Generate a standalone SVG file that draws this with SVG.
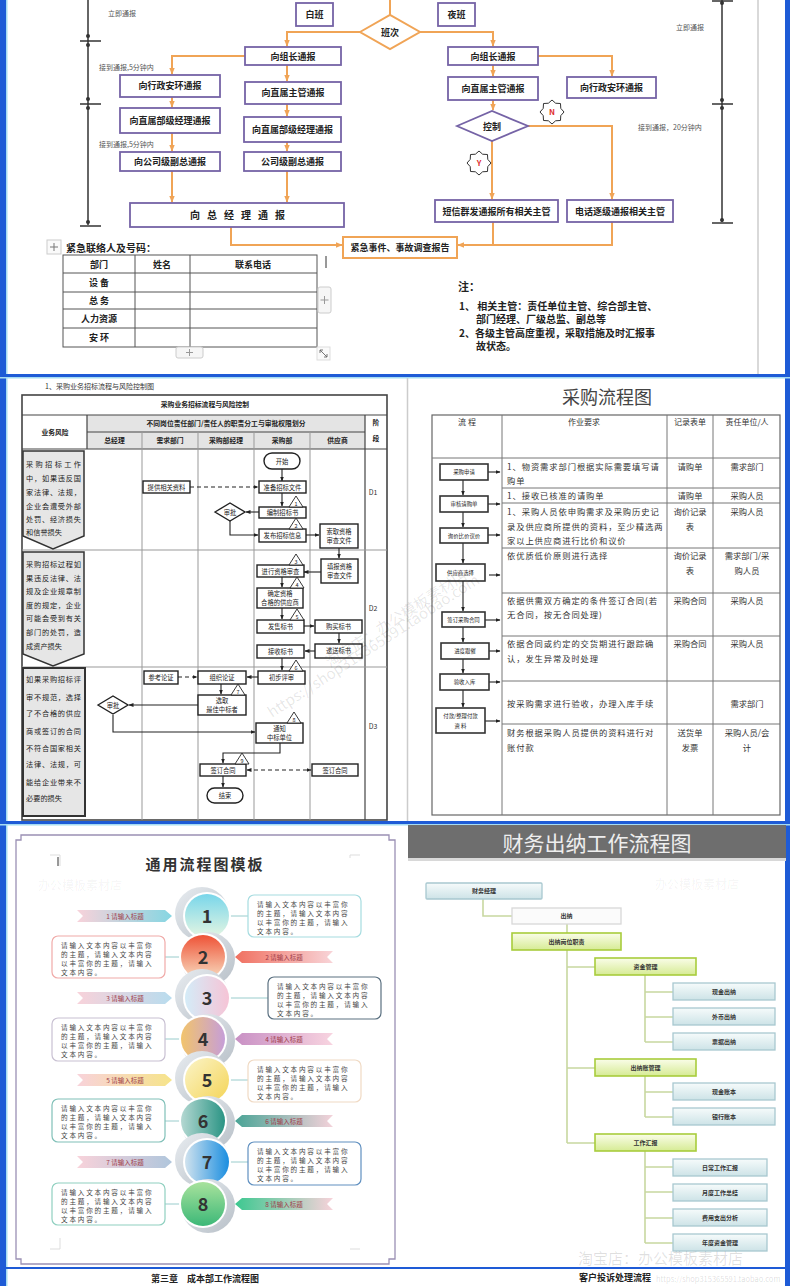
<svg xmlns="http://www.w3.org/2000/svg" width="790" height="1286" viewBox="0 0 790 1286">
<style>
text{font-family:"Noto Sans CJK SC","Noto Sans",sans-serif}
.pb{fill:#fff;stroke:#7563a6;stroke-width:1.8}
.oc{fill:none;stroke:#f0a456;stroke-width:2}
.tb{font-size:9px;font-weight:bold;fill:#222;text-anchor:middle}
.ts{font-size:7px;fill:#555}
.nt{font-size:10px;font-weight:bold;fill:#222}
.tl{stroke:#555;stroke-width:1;fill:none}
.tt{font-size:9px;font-weight:bold;fill:#222;text-anchor:middle}
.fb{fill:#fff;stroke:#222;stroke-width:1.4}
.ft{font-size:6.3px;fill:#222;text-anchor:middle}
.bc{fill:none;stroke:#222;stroke-width:1.1}
.dc{fill:none;stroke:#222;stroke-width:1.1;stroke-dasharray:4 3}
.gl{stroke:#999;stroke-width:1}
.rk{fill:#e6e6e6;stroke:#333;stroke-width:1.5}
.rt{font-size:7.2px;fill:#222}
.hd{font-size:6.8px;font-weight:bold;fill:#222;text-anchor:middle}
.tri{fill:#fff;stroke:#222;stroke-width:0.9}
.tn{font-size:5.5px;fill:#222;text-anchor:middle}
.mb{fill:#fff;stroke:#333;stroke-width:1.6}
.mbt{font-size:5.4px;fill:#222;text-anchor:middle}
.mt{font-size:8.3px;letter-spacing:0.9px;fill:#333}
.mc{font-size:8.3px;fill:#333;text-anchor:middle}
.mh{font-size:8px;fill:#333;text-anchor:middle}
.ml{stroke:#777;stroke-width:1}
.tx{font-size:6.6px;fill:#444;letter-spacing:1.8px}
.rb{font-size:6.5px;fill:#a03a48;text-anchor:middle}
.num{font-size:18px;font-weight:bold;fill:#333;text-anchor:middle}
.bn{fill:url(#gBlue);stroke:#a8c8d0;stroke-width:1.3}
.gn{fill:url(#gGreen);stroke:#a8cc3c;stroke-width:1.6}
.nn{font-size:6px;font-weight:bold;fill:#333;text-anchor:middle}
.tc{fill:none;stroke:#c8d8a0;stroke-width:1.6}
.wm{fill:#000;fill-opacity:0.1}
</style>
<defs>
<marker id="ao" viewBox="0 0 10 10" refX="9" refY="5" markerUnits="userSpaceOnUse" markerWidth="7" markerHeight="7" orient="auto"><path d="M0,1 L10,5 L0,9 Z" fill="#f0a456"/></marker>
<marker id="ab" viewBox="0 0 10 10" refX="9" refY="5" markerUnits="userSpaceOnUse" markerWidth="5" markerHeight="5" orient="auto"><path d="M0,1 L10,5 L0,9 Z" fill="#222"/></marker>
<marker id="abs" viewBox="0 0 10 10" refX="1" refY="5" markerUnits="userSpaceOnUse" markerWidth="5" markerHeight="5" orient="auto"><path d="M10,1 L0,5 L10,9 Z" fill="#222"/></marker>
<polygon id="star" points="12,0 8.78,3.64 8.49,8.49 3.64,8.78 0,12 -3.64,8.78 -8.49,8.49 -8.78,3.64 -12,0 -8.78,-3.64 -8.49,-8.49 -3.64,-8.78 0,-12 3.64,-8.78 8.49,-8.49 8.78,-3.64" fill="#fff" stroke="#333" stroke-width="1"/>
<linearGradient id="gBlue" x1="0" y1="0" x2="0" y2="1"><stop offset="0" stop-color="#f6fbfb"/><stop offset="1" stop-color="#cde3e7"/></linearGradient>
<linearGradient id="gGreen" x1="0" y1="0" x2="0" y2="1"><stop offset="0" stop-color="#fafde9"/><stop offset="1" stop-color="#d6eb94"/></linearGradient>
<linearGradient id="gGrey" x1="0" y1="0" x2="1" y2="1"><stop offset="0" stop-color="#e8ecf0"/><stop offset="1" stop-color="#b8c0c8"/></linearGradient>
<linearGradient id="c1" x1="0" y1="0" x2="0" y2="1"><stop offset="0" stop-color="#78d6ea"/><stop offset="1" stop-color="#e6f6e2"/></linearGradient>
<linearGradient id="c2" x1="0" y1="0" x2="0" y2="1"><stop offset="0" stop-color="#ee5236"/><stop offset="1" stop-color="#f8dcc0"/></linearGradient>
<linearGradient id="c3" x1="0" y1="0" x2="1" y2="0"><stop offset="0" stop-color="#d4ecf8"/><stop offset="1" stop-color="#f6c4d6"/></linearGradient>
<linearGradient id="c4" x1="0" y1="0" x2="1" y2="0"><stop offset="0" stop-color="#f2c46c"/><stop offset="1" stop-color="#c69ed8"/></linearGradient>
<linearGradient id="c5" x1="0" y1="0" x2="1" y2="1"><stop offset="0" stop-color="#fbf4c8"/><stop offset="1" stop-color="#f4d456"/></linearGradient>
<linearGradient id="c6" x1="0" y1="0" x2="1" y2="0"><stop offset="0" stop-color="#b4d8d2"/><stop offset="1" stop-color="#2a9484"/></linearGradient>
<linearGradient id="c7" x1="0" y1="0" x2="1" y2="0"><stop offset="0" stop-color="#d0e2ee"/><stop offset="1" stop-color="#1a8ee0"/></linearGradient>
<linearGradient id="c8" x1="0" y1="0" x2="0" y2="1"><stop offset="0" stop-color="#a8e29c"/><stop offset="1" stop-color="#3cb878"/></linearGradient>
<linearGradient id="r1" x1="0" y1="0" x2="1" y2="0"><stop offset="0" stop-color="#f8d2da"/><stop offset="1" stop-color="#86d6e2"/></linearGradient>
<linearGradient id="r3" x1="0" y1="0" x2="1" y2="0"><stop offset="0" stop-color="#f8d2da"/><stop offset="1" stop-color="#b8dcee"/></linearGradient>
<linearGradient id="r5" x1="0" y1="0" x2="1" y2="0"><stop offset="0" stop-color="#f8d2da"/><stop offset="1" stop-color="#f6e48a"/></linearGradient>
<linearGradient id="r7" x1="0" y1="0" x2="1" y2="0"><stop offset="0" stop-color="#f8d2da"/><stop offset="1" stop-color="#b0c6dc"/></linearGradient>
<linearGradient id="r2" x1="0" y1="0" x2="1" y2="0"><stop offset="0" stop-color="#f07060"/><stop offset="1" stop-color="#f8d4d8"/></linearGradient>
<linearGradient id="r4" x1="0" y1="0" x2="1" y2="0"><stop offset="0" stop-color="#c890c4"/><stop offset="1" stop-color="#f8d4e0"/></linearGradient>
<linearGradient id="r6" x1="0" y1="0" x2="1" y2="0"><stop offset="0" stop-color="#4aa496"/><stop offset="1" stop-color="#f4d2da"/></linearGradient>
<linearGradient id="r8" x1="0" y1="0" x2="1" y2="0"><stop offset="0" stop-color="#3cc890"/><stop offset="1" stop-color="#f8d2da"/></linearGradient>
</defs>

<!-- page background and frame -->
<rect x="0" y="0" width="790" height="1286" fill="#fff"/>
<g id="frame">
<rect x="0" y="0" width="6" height="1286" fill="#1e5bd6"/>
<rect x="6" y="0" width="1.5" height="1286" fill="#a6dcf2"/>
<rect x="785" y="0" width="5" height="1286" fill="#1e5bd6"/>
<rect x="0" y="374" width="790" height="3" fill="#1e5bd6"/>
<rect x="0" y="377" width="790" height="1.5" fill="#a6dcf2"/>
<rect x="0" y="821" width="790" height="3" fill="#1e5bd6"/>
<rect x="0" y="824" width="790" height="1.5" fill="#a6dcf2"/>
<line x1="758" y1="0" x2="758" y2="374" stroke="#ccc" stroke-width="1.5"/>
<line x1="407.5" y1="378" x2="407.5" y2="821" stroke="#ccc" stroke-width="1.5"/>
<rect x="6" y="1267" width="784" height="2" fill="#1e5bd6"/>
</g>

<!-- ============ TOP PANEL ============ -->
<g id="timelines">
<line x1="88" y1="0" x2="88" y2="225" stroke="#333" stroke-width="1.5"/>
<line x1="80" y1="41" x2="101" y2="41" stroke="#333" stroke-width="1.5"/>
<line x1="80" y1="104" x2="101" y2="104" stroke="#333" stroke-width="1.5"/>
<line x1="80" y1="226" x2="101" y2="226" stroke="#333" stroke-width="1.5"/>
<circle cx="88" cy="36" r="2" fill="#333"/><circle cx="88" cy="45" r="2" fill="#333"/>
<circle cx="88" cy="99" r="2" fill="#333"/><circle cx="88" cy="108" r="2" fill="#333"/>
<circle cx="88" cy="222" r="2" fill="#333"/>
<text class="ts" x="108" y="16">立即通报</text>
<text class="ts" x="99" y="70">接到通报,5分钟内</text>
<text class="ts" x="99" y="147">接到通报,5分钟内</text>
<line x1="722" y1="0" x2="722" y2="222" stroke="#333" stroke-width="1.5"/>
<line x1="712" y1="1" x2="733" y2="1" stroke="#333" stroke-width="1.5"/>
<line x1="712" y1="104" x2="733" y2="104" stroke="#333" stroke-width="1.5"/>
<line x1="712" y1="223" x2="733" y2="223" stroke="#333" stroke-width="1.5"/>
<circle cx="722" cy="3" r="2" fill="#333"/><circle cx="722" cy="100" r="2" fill="#333"/>
<circle cx="722" cy="108" r="2" fill="#333"/><circle cx="722" cy="220" r="2" fill="#333"/>
<text class="ts" x="676" y="30">立即通报</text>
<text class="ts" x="638" y="130">接到通报，20分钟内</text>
</g>

<g id="connectors-top">
<path class="oc" d="M390,0 V15"/>
<path class="oc" d="M360,32 H287 V46" marker-end="url(#ao)"/>
<path class="oc" d="M420,32 H493 V46" marker-end="url(#ao)"/>
<path class="oc" d="M245,56 H172 V74" marker-end="url(#ao)"/>
<path class="oc" d="M287,65 V81" marker-end="url(#ao)"/>
<path class="oc" d="M287,104 V116" marker-end="url(#ao)"/>
<path class="oc" d="M287,142 V151" marker-end="url(#ao)"/>
<path class="oc" d="M172,97 V107" marker-end="url(#ao)"/>
<path class="oc" d="M172,133 V151" marker-end="url(#ao)"/>
<path class="oc" d="M172,171 V202" marker-end="url(#ao)"/>
<path class="oc" d="M287,171 V202" marker-end="url(#ao)"/>
<path class="oc" d="M231,227 V245 H342" marker-end="url(#ao)"/>
<path class="oc" d="M538,56 H612 V76" marker-end="url(#ao)"/>
<path class="oc" d="M493,65 V76" marker-end="url(#ao)"/>
<path class="oc" d="M493,100 V110" marker-end="url(#ao)"/>
<path class="oc" d="M528,126 H612 V199" marker-end="url(#ao)"/>
<path class="oc" d="M492,141 V199" marker-end="url(#ao)"/>
<path class="oc" d="M493,222 V245"/>
<path class="oc" d="M612,222 V245 H458" marker-end="url(#ao)"/>
</g>

<g id="n-baiban"><rect class="pb" x="296" y="3" width="37" height="23"/><text class="tb" x="314.5" y="18">白班</text></g>
<g id="n-yeban"><rect class="pb" x="438" y="3" width="37" height="23"/><text class="tb" x="456.5" y="18">夜班</text></g>
<g id="n-banci"><polygon points="360,32 390,15 420,32 390,49" fill="#fff" stroke="#f0a456" stroke-width="2"/><text class="tb" x="390" y="36">班次</text></g>
<g id="n-l-zuzhang"><rect class="pb" x="245" y="47" width="96" height="18"/><text class="tb" x="293" y="59.5">向组长通报</text></g>
<g id="n-l-zhuguan"><rect class="pb" x="245" y="82" width="96" height="22"/><text class="tb" x="293" y="96">向直属主管通报</text></g>
<g id="n-l-bujing"><rect class="pb" x="244" y="117" width="97" height="25"/><text class="tb" x="292.5" y="132.5">向直属部级经理通报</text></g>
<g id="n-l-fuzong"><rect class="pb" x="244" y="152" width="97" height="19"/><text class="tb" x="292.5" y="164.5">公司级副总通报</text></g>
<g id="n-fl-anhuan"><rect class="pb" x="120" y="75" width="100" height="22"/><text class="tb" x="170" y="89">向行政安环通报</text></g>
<g id="n-fl-bujing"><rect class="pb" x="120" y="108" width="100" height="25"/><text class="tb" x="170" y="123.5">向直属部级经理通报</text></g>
<g id="n-fl-fuzong"><rect class="pb" x="120" y="152" width="100" height="19"/><text class="tb" x="170" y="164.5">向公司级副总通报</text></g>
<g id="n-zongjingli"><rect class="pb" x="130" y="203" width="214" height="24"/><text class="tb" x="241" y="219" style="font-size:10px;letter-spacing:7px">向总经理通报</text></g>
<g id="n-jinji"><rect x="343" y="237" width="114" height="21" fill="#fff" stroke="#f0a456" stroke-width="2"/><text class="tb" x="400" y="251">紧急事件、事故调查报告</text></g>
<g id="n-r-zuzhang"><rect class="pb" x="448" y="47" width="90" height="18"/><text class="tb" x="493" y="59.5">向组长通报</text></g>
<g id="n-r-zhuguan"><rect class="pb" x="448" y="77" width="90" height="23"/><text class="tb" x="493" y="91.5">向直属主管通报</text></g>
<g id="n-r-anhuan"><rect class="pb" x="567" y="77" width="89" height="21"/><text class="tb" x="611.5" y="90.5">向行政安环通报</text></g>
<g id="n-kongzhi"><polygon points="457,126 492,111 528,126 492,141" fill="#fff" stroke="#7563a6" stroke-width="1.8"/><text class="tb" x="492" y="129.5">控制</text></g>
<g id="n-N"><use href="#star" x="552" y="112"/><text x="552" y="115" style="font-size:8px;font-weight:bold;fill:#e03030;text-anchor:middle">N</text></g>
<g id="n-Y"><use href="#star" x="479" y="163"/><text x="479" y="166" style="font-size:8px;font-weight:bold;fill:#e03030;text-anchor:middle">Y</text></g>
<g id="n-duanxin"><rect class="pb" x="435" y="200" width="123" height="22"/><text class="tb" x="496.5" y="214.5">短信群发通报所有相关主管</text></g>
<g id="n-dianhua"><rect class="pb" x="567" y="200" width="106" height="22"/><text class="tb" x="620" y="214.5">电话逐级通报相关主管</text></g>

<g id="notes">
<text class="nt" x="458" y="291" style="font-size:11px">注：</text>
<text class="nt" x="459" y="310">1、 相关主管：责任单位主管、综合部主管、</text>
<text class="nt" x="476" y="323">部门经理、厂级总监、副总等</text>
<text class="nt" x="459" y="337">2、各级主管高度重视，采取措施及时汇报事</text>
<text class="nt" x="476" y="350">故状态。</text>
</g>

<g id="contact-table">
<rect x="47" y="240" width="14" height="14" fill="#fafafa" stroke="#ccc"/>
<path d="M54,243 V251 M50,247 H58" stroke="#777" stroke-width="1"/>
<text class="nt" x="66" y="252">紧急联络人及号码：</text>
<rect class="tl" x="63" y="255" width="254" height="92"/>
<path class="tl" d="M63,273 H317 M63,292 H317 M63,309 H317 M63,328 H317 M135,255 V347 M190,255 V347"/>
<text class="tt" x="99" y="268">部门</text>
<text class="tt" x="162" y="268">姓名</text>
<text class="tt" x="253" y="268">联系电话</text>
<text class="tt" x="99" y="286">设  备</text>
<text class="tt" x="99" y="304">总  务</text>
<text class="tt" x="99" y="322">人力资源</text>
<text class="tt" x="99" y="341">安  环</text>
<line x1="326" y1="256" x2="326" y2="268" stroke="#333" stroke-width="1"/>
<rect x="318" y="287" width="13" height="26" rx="2" fill="#f6f6f6" stroke="#ccc"/>
<path d="M324.5,296 V304 M320.5,300 H328.5" stroke="#999" stroke-width="1"/>
<rect x="176" y="347" width="27" height="11" rx="2" fill="#f6f6f6" stroke="#ccc"/>
<path d="M189.5,349 V356 M186,352.5 H193" stroke="#999" stroke-width="1"/>
<rect x="317" y="347" width="13" height="13" fill="#fafafa" stroke="#ddd"/>
<path d="M320,350 L327,357 M320,350 h3 M320,350 v3 M327,357 h-3 M327,357 v-3" stroke="#666" stroke-width="0.9" fill="none"/>
</g>

<!-- ============ MIDDLE LEFT ============ -->
<g id="ml-table">
<text x="45" y="389" style="font-size:7px;fill:#333">1、采购业务招标流程与风险控制图</text>
<rect x="87" y="415" width="278" height="34" fill="#e4e4e4"/>
<rect x="22" y="395" width="365" height="425" fill="none" stroke="#444" stroke-width="1.6"/>
<path d="M22,415 H387 M22,449 H387 M87,432 H365 M87,415 V449 M365,415 V820" stroke="#444" stroke-width="1.2" fill="none"/>
<path class="gl" d="M142,432 V820 M198,432 V820 M254,432 V820 M310,432 V820 M22,550 H387 M22,667 H387"/>
<text class="hd" x="205" y="407">采购业务招标流程与风险控制</text>
<text class="hd" x="55" y="435">业务风险</text>
<text class="hd" x="226" y="426">不同岗位责任部门/责任人的职责分工与审批权限划分</text>
<text class="hd" x="114.5" y="443">总经理</text>
<text class="hd" x="170" y="443">需求部门</text>
<text class="hd" x="226" y="443">采购部经理</text>
<text class="hd" x="282" y="443">采购部</text>
<text class="hd" x="337.5" y="443">供应商</text>
<text class="hd" x="376" y="425">阶</text>
<text class="hd" x="376" y="441">段</text>
<text x="373" y="495" style="font-size:7px;fill:#333;text-anchor:middle">D1</text>
<text x="373" y="611" style="font-size:7px;fill:#333;text-anchor:middle">D2</text>
<text x="373" y="729" style="font-size:7px;fill:#333;text-anchor:middle">D3</text>
</g>

<g id="risk-d1">
<path class="rk" d="M23,451 H84 V536 L53,549 L23,536 Z"/>
<text class="rt" x="26" y="467" textLength="55" lengthAdjust="spacing">采购招标工作</text>
<text class="rt" x="26" y="481" textLength="55" lengthAdjust="spacing">中，如果违反国</text>
<text class="rt" x="26" y="495" textLength="55" lengthAdjust="spacing">家法律、法规，</text>
<text class="rt" x="26" y="509" textLength="55" lengthAdjust="spacing">企业会遭受外部</text>
<text class="rt" x="26" y="522" textLength="55" lengthAdjust="spacing">处罚、经济损失</text>
<text class="rt" x="26" y="535">和信誉损失</text>
</g>
<g id="risk-d2">
<path class="rk" d="M23,552 H84 V654 L53,666 L23,654 Z"/>
<text class="rt" x="26" y="567" textLength="55" lengthAdjust="spacing">采购招标过程如</text>
<text class="rt" x="26" y="581" textLength="55" lengthAdjust="spacing">果违反法律、法</text>
<text class="rt" x="26" y="594" textLength="55" lengthAdjust="spacing">规及企业规章制</text>
<text class="rt" x="26" y="608" textLength="55" lengthAdjust="spacing">度的规定，企业</text>
<text class="rt" x="26" y="621" textLength="55" lengthAdjust="spacing">可能会受到有关</text>
<text class="rt" x="26" y="635" textLength="55" lengthAdjust="spacing">部门的处罚，造</text>
<text class="rt" x="26" y="649">成资产损失</text>
</g>
<g id="risk-d3">
<rect x="23" y="668" width="62" height="148" fill="#e6e6e6" stroke="#333" stroke-width="2"/>
<text class="rt" x="26" y="682" textLength="55" lengthAdjust="spacing">如果采购招标评</text>
<text class="rt" x="26" y="700" textLength="55" lengthAdjust="spacing">审不规范，选择</text>
<text class="rt" x="26" y="716" textLength="55" lengthAdjust="spacing">了不合格的供应</text>
<text class="rt" x="26" y="734" textLength="55" lengthAdjust="spacing">商或签订的合同</text>
<text class="rt" x="26" y="751" textLength="55" lengthAdjust="spacing">不符合国家相关</text>
<text class="rt" x="26" y="767" textLength="55" lengthAdjust="spacing">法律、法规，可</text>
<text class="rt" x="26" y="785" textLength="55" lengthAdjust="spacing">能给企业带来不</text>
<text class="rt" x="26" y="801">必要的损失</text>
</g>

<g id="connectors-ml">
<path class="bc" d="M282,469 V481" marker-end="url(#ab)"/>
<path class="dc" d="M190,487 H258" marker-end="url(#ab)"/>
<path class="bc" d="M282,493 V506" marker-end="url(#ab)"/>
<path class="bc" d="M259,512 H246" marker-end="url(#ab)"/>
<path class="bc" d="M230,521 V535 H258" marker-end="url(#ab)"/>
<path class="bc" d="M306,535 H319" marker-end="url(#ab)"/>
<path class="bc" d="M339,548 V558" marker-end="url(#ab)"/>
<path class="bc" d="M321,572 H304" marker-end="url(#ab)"/>
<path class="bc" d="M282,577 V587" marker-end="url(#ab)"/>
<path class="bc" d="M282,608 V619" marker-end="url(#ab)"/>
<path class="bc" d="M304,626 H314" marker-end="url(#ab)"/>
<path class="bc" d="M339,633 V643" marker-end="url(#ab)"/>
<path class="bc" d="M315,651 H305" marker-end="url(#ab)"/>
<path class="bc" d="M282,658 V670" marker-end="url(#ab)"/>
<path class="bc" d="M258,677 H247" marker-end="url(#ab)"/>
<path class="dc" d="M178,677 H197" marker-end="url(#ab)"/>
<path class="bc" d="M221,684 V694" marker-end="url(#ab)"/>
<path class="bc" d="M198,705 H129" marker-end="url(#ab)"/>
<path class="bc" d="M113,715 V732 H255" marker-end="url(#ab)"/>
<path class="bc" d="M280,743 V753 H223 V763" marker-end="url(#ab)"/>
<path class="dc" d="M247,770 H311" marker-start="url(#abs)" marker-end="url(#ab)"/>
<path class="bc" d="M223,776 V787" marker-end="url(#ab)"/>
</g>

<g id="ml-start"><rect class="fb" x="264" y="453" width="36" height="16" rx="8"/><text class="ft" x="282" y="463.5">开始</text></g>
<g id="ml-ziliao"><rect class="fb" x="143" y="481" width="47" height="12"/><text class="ft" x="166.5" y="489.5">提供相关资料</text></g>
<g id="ml-zhunbei"><rect class="fb" x="259" y="481" width="47" height="12"/><text class="ft" x="282.5" y="489.5">准备招标文件</text></g>
<g id="ml-bianzhi"><rect class="fb" x="259" y="507" width="47" height="11"/><text class="ft" x="282.5" y="515">编制招标书</text></g>
<g id="ml-shenpi1"><polygon points="215,512 230,503 245,512 230,521" fill="#fff" stroke="#222" stroke-width="1.4"/><text class="ft" x="230" y="514.5">审批</text></g>
<g id="ml-fabu"><rect class="fb" x="259" y="529" width="47" height="13"/><text class="ft" x="282.5" y="537.5">发布招标信息</text></g>
<g id="ml-suoqu"><rect class="fb" x="320" y="524" width="38" height="24"/><text class="ft" x="339" y="534">索取资格</text><text class="ft" x="339" y="543">审查文件</text></g>
<g id="ml-tianbao"><rect class="fb" x="321" y="559" width="37" height="24"/><text class="ft" x="339.5" y="569">填报资格</text><text class="ft" x="339.5" y="578">审查文件</text></g>
<g id="ml-jinxing"><rect class="fb" x="257" y="565" width="47" height="12"/><text class="ft" x="280.5" y="573.5">进行资格审查</text></g>
<g id="ml-queding"><rect class="fb" x="257" y="588" width="46" height="20"/><text class="ft" x="280" y="596">确定资格</text><text class="ft" x="280" y="605">合格的供应商</text></g>
<g id="ml-fashou"><rect class="fb" x="257" y="620" width="47" height="13"/><text class="ft" x="280.5" y="628.5">发售标书</text></g>
<g id="ml-goumai"><rect class="fb" x="315" y="620" width="47" height="13"/><text class="ft" x="338.5" y="628.5">购买标书</text></g>
<g id="ml-disong"><rect class="fb" x="315" y="644" width="47" height="14"/><text class="ft" x="338.5" y="653">递送标书</text></g>
<g id="ml-jieshou"><rect class="fb" x="257" y="645" width="47" height="13"/><text class="ft" x="280.5" y="653.5">接收标书</text></g>
<g id="ml-chubu"><rect class="fb" x="258" y="671" width="47" height="13"/><text class="ft" x="281.5" y="679.5">初步评审</text></g>
<g id="ml-zuzhi"><rect class="fb" x="198" y="671" width="48" height="13"/><text class="ft" x="222" y="679.5">组织论证</text></g>
<g id="ml-cankao"><rect class="fb" x="144" y="671" width="34" height="13"/><text class="ft" x="161" y="679.5">参考论证</text></g>
<g id="ml-xuanqu"><rect class="fb" x="198" y="695" width="48" height="20"/><text class="ft" x="222" y="703">选取</text><text class="ft" x="222" y="712">最佳中标者</text></g>
<g id="ml-shenpi2"><polygon points="98,705 113,696 128,705 113,714" fill="#fff" stroke="#222" stroke-width="1.4"/><text class="ft" x="113" y="707.5">审批</text></g>
<g id="ml-tongzhi"><rect class="fb" x="256" y="723" width="47" height="20"/><text class="ft" x="279.5" y="731">通知</text><text class="ft" x="279.5" y="740">中标单位</text></g>
<g id="ml-qianding"><rect class="fb" x="200" y="764" width="46" height="12"/><text class="ft" x="223" y="772.5">签订合同</text></g>
<g id="ml-qianding2"><rect class="fb" x="312" y="764" width="46" height="12"/><text class="ft" x="335" y="772.5">签订合同</text></g>
<g id="ml-end"><rect class="fb" x="207" y="788" width="36" height="15" rx="7.5"/><text class="ft" x="225" y="798">结束</text></g>

<g id="ml-triangles">
<polygon class="tri" points="296,496 289,507 303,507"/><text class="tn" x="296" y="505.5">1</text>
<polygon class="tri" points="296,518 289,529 303,529"/><text class="tn" x="296" y="527.5">2</text>
<polygon class="tri" points="296,554 289,565 303,565"/><text class="tn" x="296" y="563.5">3</text>
<polygon class="tri" points="297,577 290,588 304,588"/><text class="tn" x="297" y="586.5">4</text>
<polygon class="tri" points="297,609 290,620 304,620"/><text class="tn" x="297" y="618.5">5</text>
<polygon class="tri" points="296,660 289,671 303,671"/><text class="tn" x="296" y="669.5">6</text>
<polygon class="tri" points="238,684 231,695 245,695"/><text class="tn" x="238" y="693.5">7</text>
<polygon class="tri" points="294,712 287,723 301,723"/><text class="tn" x="294" y="721.5">8</text>
<polygon class="tri" points="242,753 235,764 249,764"/><text class="tn" x="242" y="762.5">9</text>
</g>

<!-- ============ MIDDLE RIGHT ============ -->
<g id="mr-table">
<text x="607" y="404" style="font-size:18px;fill:#444;text-anchor:middle">采购流程图</text>
<rect x="432" y="415" width="348" height="400" fill="none" stroke="#666" stroke-width="1.2"/>
<path class="ml" d="M502,415 V815 M667,415 V815 M713,415 V815 M432,458 H780 M502,488 H780 M502,503 H780 M502,548 H780 M502,593 H780 M502,636 H780 M502,681 H780 M502,724 H780"/>
<text class="mh" x="467" y="425">流 程</text>
<text class="mh" x="584" y="425">作业要求</text>
<text class="mh" x="690" y="425">记录表单</text>
<text class="mh" x="747" y="425">责任单位/人</text>
<text class="mt" x="507" y="470">1、物资需求部门根据实际需要填写请</text>
<text class="mt" x="507" y="484">购单</text>
<text class="mt" x="507" y="499">1、接收已核准的请购单</text>
<text class="mt" x="507" y="515">1、采购人员依申购需求及采购历史记</text>
<text class="mt" x="507" y="530">录及供应商所提供的资料，至少精选两</text>
<text class="mt" x="507" y="544">家以上供应商进行比价和议价</text>
<text class="mt" x="507" y="559">依优质低价原则进行选择</text>
<text class="mt" x="507" y="604">依据供需双方确定的条件签订合同(若</text>
<text class="mt" x="507" y="618">无合同，按无合同处理)</text>
<text class="mt" x="507" y="647">依据合同或约定的交货期进行跟踪确</text>
<text class="mt" x="507" y="662">认，发生异常及时处理</text>
<text class="mt" x="507" y="707">按采购需求进行验收，办理入库手续</text>
<text class="mt" x="507" y="736">财务根据采购人员提供的资料进行对</text>
<text class="mt" x="507" y="751">账付款</text>
<text class="mc" x="690" y="470">请购单</text>
<text class="mc" x="690" y="499">请购单</text>
<text class="mc" x="690" y="515">询价记录</text>
<text class="mc" x="690" y="530">表</text>
<text class="mc" x="690" y="559">询价记录</text>
<text class="mc" x="690" y="574">表</text>
<text class="mc" x="690" y="604">采购合同</text>
<text class="mc" x="690" y="647">采购合同</text>
<text class="mc" x="690" y="736">送货单</text>
<text class="mc" x="690" y="751">发票</text>
<text class="mc" x="747" y="470">需求部门</text>
<text class="mc" x="747" y="499">采购人员</text>
<text class="mc" x="747" y="515">采购人员</text>
<text class="mc" x="747" y="559">需求部门/采</text>
<text class="mc" x="747" y="574">购人员</text>
<text class="mc" x="747" y="604">采购人员</text>
<text class="mc" x="747" y="647">采购人员</text>
<text class="mc" x="747" y="707">需求部门</text>
<text class="mc" x="747" y="736">采购人员/会</text>
<text class="mc" x="747" y="751">计</text>
</g>

<g id="connectors-mr">
<path class="bc" d="M463,480 V495" marker-end="url(#ab)"/>
<path class="bc" d="M463,512 V527" marker-end="url(#ab)"/>
<path class="bc" d="M463,543 V563" marker-end="url(#ab)"/>
<path class="bc" d="M463,581 V611" marker-end="url(#ab)"/>
<path class="bc" d="M463,627 V642" marker-end="url(#ab)"/>
<path class="bc" d="M463,659 V673" marker-end="url(#ab)"/>
<path class="bc" d="M463,690 V707" marker-end="url(#ab)"/>
<path class="bc" d="M488,472 H500" marker-end="url(#ab)"/>
<path class="bc" d="M488,504 H500" marker-end="url(#ab)"/>
<path class="bc" d="M488,535 H500" marker-end="url(#ab)"/>
<path class="bc" d="M489,575 H500" marker-end="url(#ab)"/>
<path class="bc" d="M485,620 H500" marker-end="url(#ab)"/>
<path class="bc" d="M489,651 H500" marker-end="url(#ab)"/>
<path class="bc" d="M489,682 H500" marker-end="url(#ab)"/>
<path class="bc" d="M485,721 H500" marker-end="url(#ab)"/>
</g>
<g id="mr-b1"><rect class="mb" x="440" y="464" width="48" height="16"/><text class="mbt" x="464" y="474">采购申请</text></g>
<g id="mr-b2"><rect class="mb" x="440" y="496" width="48" height="16"/><text class="mbt" x="464" y="506">审核请购单</text></g>
<g id="mr-b3"><rect class="mb" x="440" y="528" width="48" height="15"/><text class="mbt" x="464" y="537.5">询价比价议价</text></g>
<g id="mr-b4"><rect class="mb" x="436" y="564" width="49" height="17"/><text class="mbt" x="460.5" y="574.5">供应商选择</text></g>
<g id="mr-b5"><rect class="mb" x="442" y="612" width="43" height="15"/><text class="mbt" x="463.5" y="621.5">签订采购合同</text></g>
<g id="mr-b6"><rect class="mb" x="441" y="643" width="48" height="16"/><text class="mbt" x="465" y="653">进度跟催</text></g>
<g id="mr-b7"><rect class="mb" x="440" y="674" width="49" height="16"/><text class="mbt" x="464.5" y="684">验收入库</text></g>
<g id="mr-b8"><rect class="mb" x="436" y="708" width="49" height="25"/><text class="mbt" x="460.5" y="718">付款/整理付款</text><text class="mbt" x="460.5" y="728">资  料</text></g>

<g id="watermark-mid">
<text class="wm" x="0" y="0" transform="translate(272,718) rotate(-33)" style="font-size:15px">https://shop315365591.taobao.com</text>
<text class="wm" x="0" y="0" transform="translate(330,668) rotate(-33)" style="font-size:15px">淘宝店：办公模板素材店</text>
</g>

<!-- ============ BOTTOM LEFT ============ -->
<g id="bl-frame">
<path d="M21,835 H389 V840 H395 V1259 H389 V1264 H21 V1259 H16 V840 H21 Z" fill="none" stroke="#9a90b4" stroke-width="1.3"/>
<path d="M50,855 H60 V866 M360,855 H350 M350,855 V858 M50,1249 H60 V1238 M360,1249 H350" fill="none" stroke="#ddd" stroke-width="1"/>
<line x1="58" y1="857" x2="58" y2="866" stroke="#333" stroke-width="1"/>
<text x="205" y="870" style="font-size:15px;font-weight:bold;fill:#333;text-anchor:middle;letter-spacing:2px">通用流程图模板</text>
<text class="wm" x="38" y="890" style="font-size:12px;fill-opacity:0.05">办公模板素材店</text>
</g>

<g id="connectors-bl">
<path d="M229,916 H248 M165,957 H181 M228,998 H268 M165,1039 H181 M229,1080 H248 M165,1121 H181 M229,1162 H248 M165,1204 H181" stroke="#9cc" stroke-width="1" fill="none"/>
</g>

<g id="bl-item1">
<path d="M77,910 H165 L172,916 L165,922 H77 L83,916 Z" fill="url(#r1)"/><text class="rb" x="125" y="918.5">1 请输入标题</text>
<circle cx="202" cy="914" r="27" fill="url(#gGrey)"/><circle cx="207" cy="916" r="24" fill="#fff"/><circle cx="207" cy="916" r="22" fill="url(#c1)"/><text class="num" x="207" y="922.5">1</text>
<rect x="248" y="895" width="113" height="42" rx="6" fill="#fff" stroke="#a6dce0" stroke-width="1.2"/>
<text class="tx" x="257" y="907">请输入文本内容以丰富你</text><text class="tx" x="257" y="916">的主题，请输入文本内容</text><text class="tx" x="257" y="925">以丰富你的主题，请输入</text><text class="tx" x="257" y="934">文本内容。</text>
</g>
<g id="bl-item2">
<path d="M235,957 L242,951 H333 L327,957 L333,963 H242 Z" fill="url(#r2)"/><text class="rb" x="284" y="959.5">2 请输入标题</text>
<circle cx="208" cy="959" r="27" fill="url(#gGrey)"/><circle cx="203" cy="957" r="24" fill="#fff"/><circle cx="203" cy="957" r="22" fill="url(#c2)"/><text class="num" x="203" y="963.5">2</text>
<rect x="52" y="936" width="113" height="42" rx="6" fill="#fff" stroke="#f0aaa8" stroke-width="1.2"/>
<text class="tx" x="61" y="948">请输入文本内容以丰富你</text><text class="tx" x="61" y="957">的主题，请输入文本内容</text><text class="tx" x="61" y="966">以丰富你的主题，请输入</text><text class="tx" x="61" y="975">文本内容。</text>
</g>
<g id="bl-item3">
<path d="M77,992 H165 L172,998 L165,1004 H77 L83,998 Z" fill="url(#r3)"/><text class="rb" x="125" y="1000.5">3 请输入标题</text>
<circle cx="202" cy="996" r="27" fill="url(#gGrey)"/><circle cx="207" cy="998" r="24" fill="#fff"/><circle cx="207" cy="998" r="22" fill="url(#c3)"/><text class="num" x="207" y="1004.5">3</text>
<rect x="268" y="977" width="113" height="42" rx="6" fill="#fff" stroke="#5a7080" stroke-width="1.2"/>
<text class="tx" x="277" y="989">请输入文本内容以丰富你</text><text class="tx" x="277" y="998">的主题，请输入文本内容</text><text class="tx" x="277" y="1007">以丰富你的主题，请输入</text><text class="tx" x="277" y="1016">文本内容。</text>
</g>
<g id="bl-item4">
<path d="M235,1039 L242,1033 H333 L327,1039 L333,1045 H242 Z" fill="url(#r4)"/><text class="rb" x="284" y="1041.5">4 请输入标题</text>
<circle cx="208" cy="1041" r="27" fill="url(#gGrey)"/><circle cx="203" cy="1039" r="24" fill="#fff"/><circle cx="203" cy="1039" r="22" fill="url(#c4)"/><text class="num" x="203" y="1045.5">4</text>
<rect x="52" y="1018" width="113" height="43" rx="6" fill="#fff" stroke="#c8c0d2" stroke-width="1.2"/>
<text class="tx" x="61" y="1030">请输入文本内容以丰富你</text><text class="tx" x="61" y="1039">的主题，请输入文本内容</text><text class="tx" x="61" y="1048">以丰富你的主题，请输入</text><text class="tx" x="61" y="1057">文本内容。</text>
</g>
<g id="bl-item5">
<path d="M77,1074 H165 L172,1080 L165,1086 H77 L83,1080 Z" fill="url(#r5)"/><text class="rb" x="125" y="1082.5">5 请输入标题</text>
<circle cx="202" cy="1078" r="27" fill="url(#gGrey)"/><circle cx="207" cy="1080" r="24" fill="#fff"/><circle cx="207" cy="1080" r="22" fill="url(#c5)"/><text class="num" x="207" y="1086.5">5</text>
<rect x="248" y="1060" width="113" height="42" rx="6" fill="#fff" stroke="#f0dac4" stroke-width="1.2"/>
<text class="tx" x="257" y="1072">请输入文本内容以丰富你</text><text class="tx" x="257" y="1081">的主题，请输入文本内容</text><text class="tx" x="257" y="1090">以丰富你的主题，请输入</text><text class="tx" x="257" y="1099">文本内容。</text>
</g>
<g id="bl-item6">
<path d="M235,1121 L242,1115 H333 L327,1121 L333,1127 H242 Z" fill="url(#r6)"/><text class="rb" x="284" y="1123.5">6 请输入标题</text>
<circle cx="208" cy="1123" r="27" fill="url(#gGrey)"/><circle cx="203" cy="1121" r="24" fill="#fff"/><circle cx="203" cy="1121" r="22" fill="url(#c6)"/><text class="num" x="203" y="1127.5">6</text>
<rect x="52" y="1099" width="113" height="43" rx="6" fill="#fff" stroke="#80c0b8" stroke-width="1.2"/>
<text class="tx" x="61" y="1111">请输入文本内容以丰富你</text><text class="tx" x="61" y="1120">的主题，请输入文本内容</text><text class="tx" x="61" y="1129">以丰富你的主题，请输入</text><text class="tx" x="61" y="1138">文本内容。</text>
</g>
<g id="bl-item7">
<path d="M77,1156 H165 L172,1162 L165,1168 H77 L83,1162 Z" fill="url(#r7)"/><text class="rb" x="125" y="1164.5">7 请输入标题</text>
<circle cx="202" cy="1160" r="27" fill="url(#gGrey)"/><circle cx="207" cy="1162" r="24" fill="#fff"/><circle cx="207" cy="1162" r="22" fill="url(#c7)"/><text class="num" x="207" y="1168.5">7</text>
<rect x="248" y="1142" width="113" height="43" rx="6" fill="#fff" stroke="#6090c0" stroke-width="1.2"/>
<text class="tx" x="257" y="1154">请输入文本内容以丰富你</text><text class="tx" x="257" y="1163">的主题，请输入文本内容</text><text class="tx" x="257" y="1172">以丰富你的主题，请输入</text><text class="tx" x="257" y="1181">文本内容。</text>
</g>
<g id="bl-item8">
<path d="M235,1204 L242,1198 H333 L327,1204 L333,1210 H242 Z" fill="url(#r8)"/><text class="rb" x="284" y="1206.5">8 请输入标题</text>
<circle cx="208" cy="1206" r="27" fill="url(#gGrey)"/><circle cx="203" cy="1204" r="24" fill="#fff"/><circle cx="203" cy="1204" r="22" fill="url(#c8)"/><text class="num" x="203" y="1210.5">8</text>
<rect x="52" y="1183" width="113" height="42" rx="6" fill="#fff" stroke="#90d0c0" stroke-width="1.2"/>
<text class="tx" x="61" y="1195">请输入文本内容以丰富你</text><text class="tx" x="61" y="1204">的主题，请输入文本内容</text><text class="tx" x="61" y="1213">以丰富你的主题，请输入</text><text class="tx" x="61" y="1222">文本内容。</text>
</g>
<text x="205" y="1282" style="font-size:9px;font-weight:bold;fill:#222;text-anchor:middle">第三章　成本部工作流程图</text>

<!-- ============ BOTTOM RIGHT ============ -->
<g id="br-title">
<rect x="408" y="825" width="378" height="33" fill="#6e6e6e"/>
<rect x="408" y="858" width="378" height="3" fill="#d8d8d8"/>
<text x="597" y="851" style="font-size:21px;fill:#eee;text-anchor:middle">财务出纳工作流程图</text>
<text class="wm" x="655" y="889" style="font-size:12px;fill-opacity:0.05">办公模板素材店</text>
</g>
<g id="connectors-br">
<path class="tc" d="M483,899 V916 H512"/>
<path class="tc" d="M567,924 V933"/>
<path class="tc" d="M567,950 V1143 M567,967 H595 M567,1068 H595 M567,1143 H595"/>
<path class="tc" d="M645,975 V1042 M645,992 H673 M645,1017 H673 M645,1042 H673"/>
<path class="tc" d="M645,1076 V1117 M645,1092 H673 M645,1117 H673"/>
<path class="tc" d="M645,1151 V1243 M645,1167 H673 M645,1192 H673 M645,1218 H673 M645,1243 H673"/>
</g>
<g id="br-n1"><rect class="bn" x="426" y="883" width="116" height="16" rx="1"/><text class="nn" x="484" y="893">财务经理</text></g>
<g id="br-n2"><rect x="512" y="908" width="109" height="16" fill="#fbfbfb" stroke="#d8d8d8" stroke-width="1.3"/><text class="nn" x="566.5" y="918">出纳</text></g>
<g id="br-n3"><rect class="gn" x="512" y="933" width="109" height="17"/><text class="nn" x="566.5" y="943.5">出纳岗位职责</text></g>
<g id="br-n4"><rect class="gn" x="595" y="958" width="101" height="17"/><text class="nn" x="645.5" y="968.5">资金管理</text></g>
<g id="br-n5"><rect class="bn" x="673" y="983" width="102" height="17"/><text class="nn" x="724" y="993.5">现金出纳</text></g>
<g id="br-n6"><rect class="bn" x="673" y="1008" width="102" height="17"/><text class="nn" x="724" y="1018.5">外币出纳</text></g>
<g id="br-n7"><rect class="bn" x="673" y="1033" width="102" height="17"/><text class="nn" x="724" y="1043.5">票据出纳</text></g>
<g id="br-n8"><rect class="gn" x="595" y="1059" width="101" height="17"/><text class="nn" x="645.5" y="1069.5">出纳账管理</text></g>
<g id="br-n9"><rect class="bn" x="673" y="1083" width="102" height="17"/><text class="nn" x="724" y="1093.5">现金账本</text></g>
<g id="br-n10"><rect class="bn" x="673" y="1108" width="102" height="17"/><text class="nn" x="724" y="1118.5">银行账本</text></g>
<g id="br-n11"><rect class="gn" x="595" y="1134" width="101" height="17"/><text class="nn" x="645.5" y="1144.5">工作汇报</text></g>
<g id="br-n12"><rect class="bn" x="673" y="1159" width="94" height="17"/><text class="nn" x="720" y="1169.5">日常工作汇报</text></g>
<g id="br-n13"><rect class="bn" x="673" y="1184" width="94" height="17"/><text class="nn" x="720" y="1194.5">月度工作总结</text></g>
<g id="br-n14"><rect class="bn" x="673" y="1209" width="94" height="17"/><text class="nn" x="720" y="1219.5">费用支出分析</text></g>
<g id="br-n15"><rect class="bn" x="673" y="1234" width="94" height="17"/><text class="nn" x="720" y="1244.5">年度资金管理</text></g>
<text class="wm" x="578" y="1264" style="font-size:15px;fill-opacity:0.12">淘宝店：办公模板素材店</text>
<text x="615" y="1281" style="font-size:9px;font-weight:bold;fill:#222;text-anchor:middle">客户投诉处理流程</text>
<text class="wm" x="656" y="1282" style="font-size:7.5px;fill-opacity:0.14">https://shop315365591.taobao.com</text>
</svg>
